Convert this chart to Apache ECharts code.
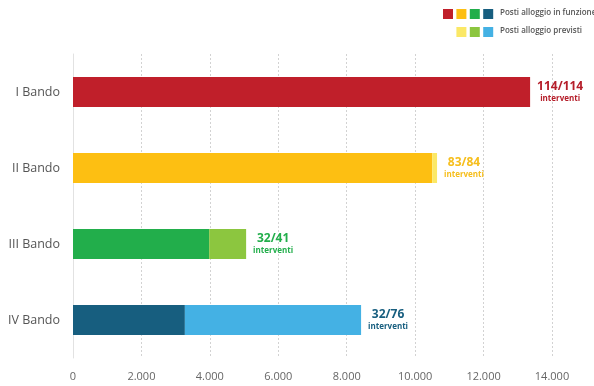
<!DOCTYPE html>
<html><head><meta charset="utf-8">
<script src="https://cdn.jsdelivr.net/npm/echarts@6/dist/echarts.min.js"></script>
<style>html,body{margin:0;padding:0;background:#fff}#c{width:594px;height:386px}</style>
</head><body><div id="c"></div>
<script>
const categories = ['I Bando', 'II Bando', 'III Bando', 'IV Bando'];
const inFunzione = [13360, 10500, 3980, 3270];
const previstiTotale = [13360, 10640, 5060, 8420];
const interventiLabels = ['114/114', '83/84', '32/41', '32/76'];
const xTicks = [0, 2000, 4000, 6000, 8000, 10000, 12000, 14000];

const darkColors = ['#c01f2a', '#fdbf12', '#22ae4b', '#175e7f'];
const lightColors = ['#f0e060', '#fbe866', '#8cc63f', '#44b1e4'];
const labelColors = ['#b51e2a', '#f6be1c', '#22ae4b', '#175e7f'];

const font = "'Open Sans', sans-serif";
const chart = echarts.init(document.getElementById('c'), null, {renderer: 'canvas'});
const fmt = v => v === 0 ? '0' : String(v).replace(/\B(?=(\d{3})+(?!\d))/g, '.');

chart.setOption({
  animation: false,
  grid: {left: 73, right: 42, top: 54, bottom: 28},
  xAxis: {
    type: 'value', min: 0, max: 14000, interval: 2000,
    axisLine: {show: false}, axisTick: {show: false},
    axisLabel: {color: '#666', fontSize: 11, fontFamily: font, margin: 13, formatter: fmt},
    splitLine: {show: true, lineStyle: {color: '#d2d2d2', type: [2, 2], width: 1}}
  },
  yAxis: {
    type: 'category', data: categories, inverse: true,
    axisLine: {show: true, lineStyle: {color: '#e2e2e2', width: 1}},
    axisTick: {show: false},
    axisLabel: {color: '#555', fontSize: 12.5, fontFamily: font, margin: 13}
  },
  series: [
    {
      name: 'Posti alloggio in funzione', type: 'bar', stack: 'a', barWidth: 30,
      data: inFunzione.map((v, i) => ({value: v, itemStyle: {color: darkColors[i]}}))
    },
    {
      name: 'Posti alloggio previsti', type: 'bar', stack: 'a', barWidth: 30,
      data: previstiTotale.map((v, i) => ({
        value: v - inFunzione[i],
        itemStyle: {color: lightColors[i]},
        label: {
          show: true, position: 'right', distance: 7,
          formatter: '{a|' + interventiLabels[i] + '}\n{b|interventi}',
          rich: {
            a: {fontSize: 12, fontWeight: 'bold', color: labelColors[i], fontFamily: font, align: 'center', lineHeight: 14},
            b: {fontSize: 8, fontWeight: 'bold', color: labelColors[i], fontFamily: font, align: 'center', lineHeight: 10}
          }
        }
      }))
    }
  ],
  graphic: [
    ...darkColors.map((c, i) => ({type: 'rect', shape: {x: 443 + i * 13.4, y: 9, width: 10, height: 10}, style: {fill: c}})),
    ...lightColors.slice(1).map((c, i) => ({type: 'rect', shape: {x: 456.4 + i * 13.4, y: 27, width: 10, height: 10}, style: {fill: c}})),
    {type: 'text', left: 500, top: 9, style: {text: 'Posti alloggio in funzione', fill: '#555', fontSize: 8, fontWeight: 600, fontFamily: font}},
    {type: 'text', left: 500, top: 27, style: {text: 'Posti alloggio previsti', fill: '#555', fontSize: 8, fontWeight: 600, fontFamily: font}}
  ]
});
</script></body></html>
